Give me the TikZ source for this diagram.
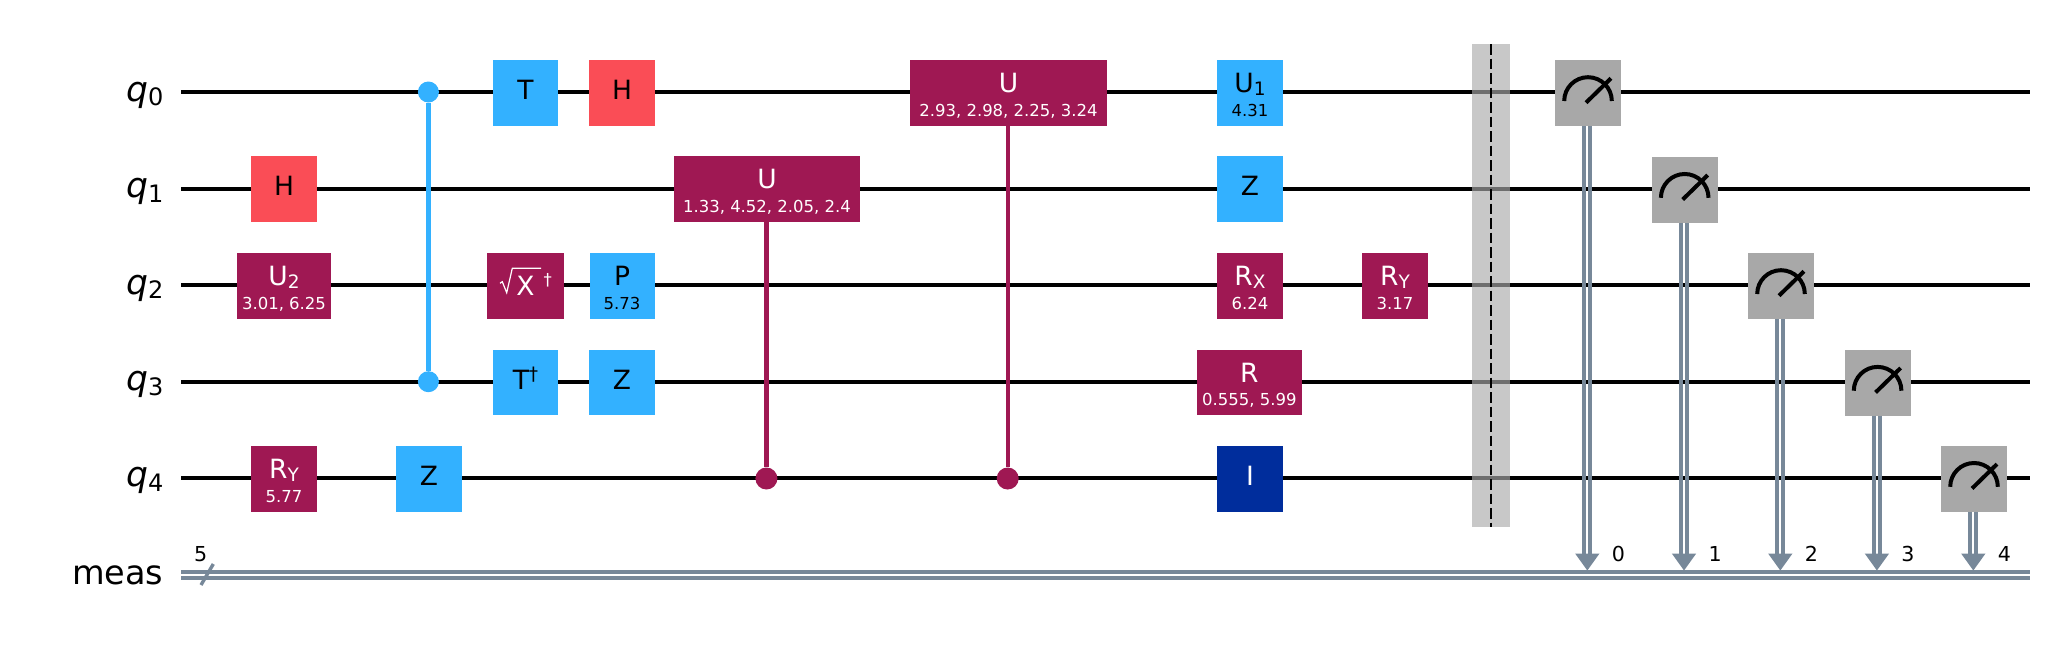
\documentclass[tikz,border=0pt]{standalone}
\usepackage{fontspec}
\setmainfont{DejaVu Sans}
\newfontfamily\qfont{DejaVu Sans Oblique}
\usetikzlibrary{arrows.meta}
\definecolor{gpurple}{HTML}{9F1853}
\definecolor{gblue}{HTML}{33B1FF}
\definecolor{gred}{HTML}{FA4D56}
\definecolor{gnavy}{HTML}{002D9C}
\definecolor{ggray}{HTML}{A8A8A8}
\definecolor{cslate}{HTML}{778899}
\definecolor{gbar}{HTML}{AAAAAA}
\newcommand{\fs}[1]{\fontsize{#1}{#1}\selectfont}
% main text (raised), parameter
\newcommand{\gtxt}[2]{\makebox[0pt][c]{\raisebox{#1pt}{\smash{\fs{26.5}#2}}}}
\newcommand{\gpar}[1]{\makebox[0pt][c]{\raisebox{-23.4pt}{\smash{\fs{16.5}#1}}}}
\newcommand{\gone}[1]{\gtxt{-6.5}{#1}}
\newcommand{\gtwo}[2]{\gtxt{0.5}{#1}\gpar{#2}}
\newcommand{\sbx}[1]{\raisebox{-3pt}{\fs{18.5}#1}}
\newcommand{\dg}{\raisebox{9pt}{\fs{18.5}†}}
\newcommand{\qlab}[3]{\node[qlabel] (#1) at (163.5,#2+9) {\fs{34.5}\qfont q\raisebox{-4.5pt}{\fs{24}\normalfont #3}};}
\tikzset{
  x=1pt, y=-1pt,
  wire/.style={line width=4.2pt,black},
  cwire/.style={line width=4.2pt,cslate},
  cline/.style={line width=4pt,cslate},
  gatebox/.style={rectangle,inner sep=0pt,minimum height=65.6pt,text height=0pt,text depth=0pt},
  purp/.style={gatebox,fill=gpurple,text=white},
  blue/.style={gatebox,fill=gblue,text=black},
  redg/.style={gatebox,fill=gred,text=black},
  navy/.style={gatebox,fill=gnavy,text=white},
  measg/.style={gatebox,fill=ggray,minimum width=66pt},
  qlabel/.style={anchor=base east,inner sep=0pt},
  digit/.style={anchor=base,inner sep=0pt,font=\fs{20.6}},
  dot/.style={circle,inner sep=0pt,minimum size=#1},
  headtip/.style={fill=cslate,draw=none},
}
% measure: name, x, wire y
\newcommand{\meas}[3]{%
  \node[measg] (#1) at (#2,#3+1) {};
  \draw[line width=4pt,black] (#2-23.8,#3+9) arc[start angle=180,end angle=360,radius=23.8];
  \draw[line width=4pt,black] (#2-2,#3+10.7) -- (#2+23,#3-13.7);
}
\newcommand{\meascable}[3]{% gate node, x, index label
  \coordinate (#1a) at (#2-0.7,570.5);
  \coordinate (#1l) at (#2-3.7,555);
  \coordinate (#1r) at (#2+2.3,555);
  \draw[cline] (#1.south -| #1l) -- (#1l);
  \draw[cline] (#1.south -| #1r) -- (#1r);
  \fill[headtip] (#1a) -- ++(-12.2,-17) -- ++(24.4,0) -- cycle;
  \node[digit] (#1d) at (#2+30.4,561) {#3};
}
\begin{document}
\begin{tikzpicture}
\useasboundingbox (0,0) rectangle (2052,648);
\def\wA{92}\def\wB{188.8}\def\wC{285}\def\wD{381.7}\def\wE{477.8}

% labels
\qlab{l0}{\wA}{0}
\qlab{l1}{\wB}{1}
\qlab{l2}{\wC}{2}
\qlab{l3}{\wD}{3}
\qlab{l4}{\wE}{4}
\node[qlabel] (lm) at (163.5,584) {\fs{33.5}meas};

% wires
\foreach \n/\y in {0/\wA,1/\wB,2/\wC,3/\wD,4/\wE}{
  \coordinate (ws\n) at (181,\y);
  \coordinate (we\n) at (2030,\y);
  \draw[wire] (ws\n) -- (we\n);
}
\coordinate (cs1) at (181,572.1);\coordinate (ce1) at (2030,572.1);
\coordinate (cs2) at (181,577.8);\coordinate (ce2) at (2030,577.8);
\draw[cwire] (cs1) -- (ce1);
\draw[cwire] (cs2) -- (ce2);
\coordinate (sa) at (201,585);\coordinate (sb) at (213.3,564);
\draw[line width=3.4pt,cslate] (sa) -- (sb);
\node[digit] (five) at (200.7,561) {5};

% barrier
\fill[gbar,opacity=.65] (1472,44) rectangle (1510,526.7);
\coordinate (ba) at (1491,44);\coordinate (bb) at (1491,526.7);
\draw[black,line width=2pt,dash pattern=on 10.5pt off 4pt] (ba) -- (bb);

% controlled Z
\node[dot=21pt,fill=gblue] (cz0) at (428.4,\wA) {};
\node[dot=21pt,fill=gblue] (cz3) at (428.4,\wD) {};
\draw[gblue,line width=4.4pt] (cz0) -- (cz3);

% gates
\node[redg,minimum width=66pt] (h1) at (284,189) {\gone{H}};
\node[purp,minimum width=94pt] (u2) at (284,286) {\gtwo{U\sbx{2}}{3.01, 6.25}};
\node[purp,minimum width=66pt] (ry4) at (284,479) {\gtwo{R\sbx{Y}}{5.77}};
\node[blue,minimum width=66pt] (z4) at (429,479) {\gone{Z}};
\node[blue,minimum width=65pt] (t0) at (525.5,93) {\gone{T}};
\node[redg,minimum width=66pt] (h0) at (622,93) {\gone{H}};
\node[purp,minimum width=77pt] (sx2) at (525.5,286) {\makebox[0pt][c]{\raisebox{-9pt}{\smash{\fs{26.5}X}}}};
\coordinate (ra) at (500,283.3);\coordinate (rb) at (502.3,281.7);\coordinate (rc) at (506.7,292.7);\coordinate (rd) at (512.3,268.3);\coordinate (re) at (541,268.3);
\draw[white,line width=1.2pt] (ra) -- (rb) -- (rc) -- (rd) -- (re);
\node[inner sep=0pt,anchor=base,text=white] (sxd) at (547.7,285) {\fs{16.5}†};
\node[blue,minimum width=65pt] (p2) at (622,286) {\gtwo{P}{5.73}};
\node[blue,minimum width=65pt] (td3) at (525.5,382.5) {\gone{T\dg}};
\node[blue,minimum width=66pt] (z3) at (622,382.5) {\gone{Z}};

% controlled U
\node[dot=22pt,fill=gpurple] (c1) at (766.4,478.5) {};
\node[dot=22pt,fill=gpurple] (c2) at (1007.7,478.5) {};
\node[purp,minimum width=186pt] (u1) at (767,189) {\gtwo{U}{1.33, 4.52, 2.05, 2.4}};
\node[purp,minimum width=197pt] (u0) at (1008.5,93) {\gtwo{U}{2.93, 2.98, 2.25, 3.24}};
\draw[gpurple,line width=4.4pt] (c1) -- (u1.south -| c1);
\draw[gpurple,line width=4.4pt] (c2) -- (u0.south -| c2);

\node[blue,minimum width=66pt] (g10) at (1250,93) {\gtwo{U\sbx{1}}{4.31}};
\node[blue,minimum width=66pt] (g11) at (1250,189) {\gone{Z}};
\node[purp,minimum width=66pt] (g12) at (1250,286) {\gtwo{R\sbx{X}}{6.24}};
\node[purp,minimum width=105pt] (g13) at (1249.3,382.5) {\gtwo{R}{0.555, 5.99}};
\node[navy,minimum width=66pt] (g14) at (1250,479) {\gone{I}};
\node[purp,minimum width=66pt] (g15) at (1395,286) {\gtwo{R\sbx{Y}}{3.17}};

% measures
\meas{m0}{1588}{\wA}
\meas{m1}{1684.7}{\wB}
\meas{m2}{1781}{\wC}
\meas{m3}{1877.6}{\wD}
\meas{m4}{1974}{\wE}
\meascable{m0}{1588}{0}
\meascable{m1}{1684.7}{1}
\meascable{m2}{1781}{2}
\meascable{m3}{1877.6}{3}
\meascable{m4}{1974}{4}
\end{tikzpicture}
\end{document}
